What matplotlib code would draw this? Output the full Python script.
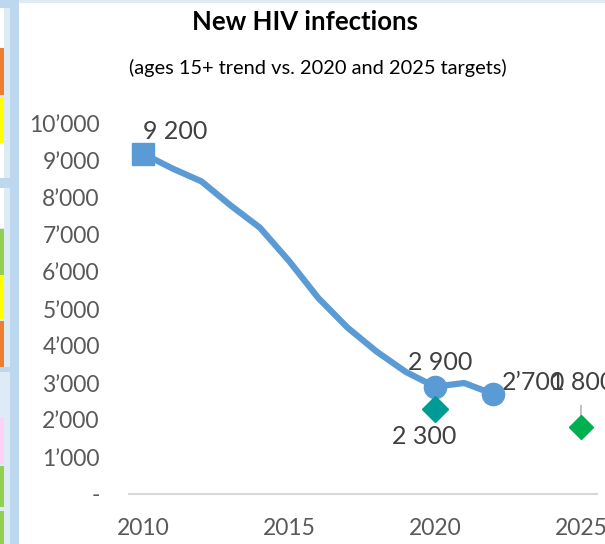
import matplotlib
matplotlib.use("Agg")
import matplotlib.pyplot as plt
from matplotlib.patches import Rectangle
from matplotlib.ticker import FixedLocator, FuncFormatter

plt.rcParams['font.family'] = ['Lato', 'DejaVu Sans']

# trend of new HIV infections, ages 15+
years = [2010, 2011, 2012, 2013, 2014, 2015, 2016, 2017, 2018, 2019, 2020, 2021, 2022]
infections = [9200, 8800, 8450, 7800, 7200, 6300, 5300, 4500, 3850, 3300, 2900, 3000, 2700]

# targets
target_years = [2020, 2025]
target_values = [2300, 1800]

y_ticks = [0, 1000, 2000, 3000, 4000, 5000, 6000, 7000, 8000, 9000, 10000]
x_ticks = [2010, 2015, 2020, 2025]

W, H = 605, 544
fig = plt.figure(figsize=(W / 100, H / 100), dpi=100)


def fx(x):
    return x / W


def fy(y):
    return 1 - y / H


# spreadsheet strip on the left edge of the screenshot
def cell(x0, y0, x1, y1, color):
    fig.patches.append(Rectangle((fx(x0), fy(y1)), fx(x1) - fx(x0), fy(y0) - fy(y1),
                                 transform=fig.transFigure, color=color, lw=0, zorder=0))


cell(0, 0, 19, 544, "#BDD7EE")
cell(19, 0, 605, 3, "#DDEBF7")
cell(0, 8, 10, 178, "#DDEBF7")
cell(0, 188, 10, 367, "#DDEBF7")
cell(0, 372, 10, 544, "#DDEBF7")
cell(0, 8, 4, 48, "white")
cell(0, 48, 4, 95, "#ED7D31")
cell(0, 97, 4, 143, "#FFFF00")
cell(0, 143, 4, 178, "white")
cell(0, 188, 4, 228, "white")
cell(0, 229, 4, 275, "#92D050")
cell(0, 276, 4, 319, "#FFFF00")
cell(0, 321, 4, 367, "#ED7D31")
cell(0, 417, 4, 464, "#FFD1F6")
cell(0, 466, 4, 507, "#92D050")
cell(0, 511, 4, 544, "#92D050")

ax = fig.add_axes([fx(129), fy(494), fx(597) - fx(129), fy(124) - fy(494)])
ax.set_facecolor("none")

ax.plot(years, infections, color="#5B9BD5", lw=4.5, solid_joinstyle="round", zorder=3)
ax.plot(years[0], infections[0], marker="s", ms=16, color="#5B9BD5", zorder=4)
ax.plot([years[10], years[12]], [infections[10], infections[12]], ls="none",
        marker="o", ms=16, color="#5B9BD5", zorder=4)
ax.plot(target_years[0], target_values[0], marker="D", ms=13.5, color="#009B94", ls="none", zorder=4)
ax.plot(target_years[1], target_values[1], marker="D", ms=12, color="#00B050", ls="none", zorder=4)

lab = dict(textcoords="offset pixels", fontsize=18, color="#404040", va="center",
           annotation_clip=False)
ax.annotate("9 200", (years[0], infections[0]), xytext=(0, 22), ha="left", **lab)
ax.annotate("2 900", (years[10], infections[10]), xytext=(5, 24), ha="center", **lab)
ax.annotate("2\u2019700", (years[12], infections[12]), xytext=(9, 12), ha="left", **lab)
ax.annotate("2 300", (target_years[0], target_values[0]), xytext=(-11, -28), ha="center", **lab)
ax.annotate("1 800", (target_years[1], target_values[1]), xytext=(1, 45), ha="center", **lab)
ax.annotate("", (target_years[1], target_values[1]), xytext=(0, 22), textcoords="offset pixels",
            arrowprops=dict(arrowstyle="-", color="#A6A6A6", lw=1, shrinkA=0, shrinkB=0),
            annotation_clip=False)

ax.set_xlim(2009.52, 2025.55)
ax.set_ylim(0, 10000)
ax.xaxis.set_major_locator(FixedLocator(x_ticks))
ax.yaxis.set_major_locator(FixedLocator(y_ticks))
ax.yaxis.set_major_formatter(FuncFormatter(
    lambda v, p: "-" if v == 0 else f"{int(v):,}".replace(",", "\u2019")))
ax.tick_params(axis="both", length=0, labelsize=16.5, labelcolor="#595959")
ax.tick_params(axis="y", pad=21)
ax.tick_params(axis="x", pad=17)
for s in ["top", "right", "left"]:
    ax.spines[s].set_visible(False)
ax.spines["bottom"].set_color("#D9D9D9")
ax.spines["bottom"].set_linewidth(1.5)

fig.text(fx(305), fy(22), "New HIV infections", ha="center", va="center",
         fontsize=18.5, fontweight="bold", color="black")
fig.text(fx(318), fy(68), "(ages 15+ trend vs. 2020 and 2025 targets)", ha="center",
         va="center", fontsize=14.4, color="black")

fig.savefig("out.png", dpi=100)
